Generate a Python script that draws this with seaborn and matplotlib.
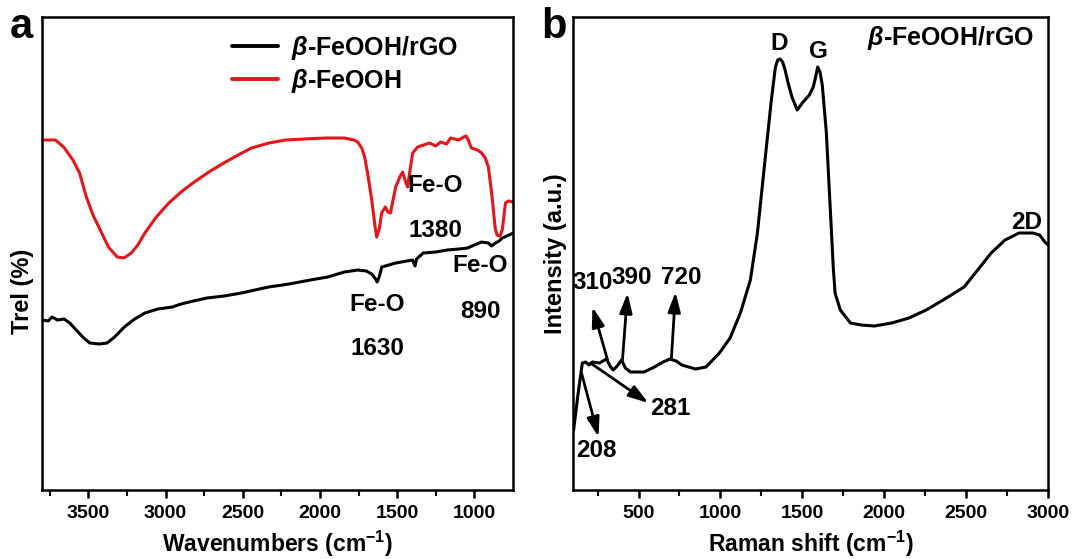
import numpy as np
import pandas as pd
import seaborn as sns
import matplotlib.pyplot as plt

# FTIR (panel a), arbitrary transmittance units
ftir_red_wn = [3800, 3713, 3660, 3600, 3557, 3513, 3470, 3423, 3370, 3313, 3270, 3222, 3180,
               3134, 3060, 2979, 2900, 2823, 2720, 2623, 2530, 2444, 2330, 2222, 2100, 1960,
               1843, 1780, 1756, 1730, 1711, 1690, 1665, 1645, 1633, 1615, 1601, 1577, 1560,
               1544, 1510, 1480, 1465, 1445, 1433, 1415, 1400, 1368, 1330, 1290, 1250, 1220,
               1180, 1155, 1100, 1070, 1054, 1040, 1020, 980, 954, 930, 910, 895, 884, 866,
               854, 835, 820, 799, 780, 748]
ftir_red_t = [350, 350, 343, 330, 317, 293, 275, 260, 243, 233, 232, 237, 245,
              257, 273, 287, 298, 307, 318, 327, 335, 342, 347, 350, 351, 352,
              352, 350, 348, 342, 333, 315, 290, 265, 253, 262, 277, 283, 278,
              277, 303, 314, 318, 308, 303, 322, 337, 343, 345, 347, 344, 348,
              346, 352, 350, 353, 354, 350, 342, 340, 337, 332, 323,
              305, 290, 262, 255, 254, 260, 287, 289, 288]

ftir_black_wn = [3800, 3760, 3735, 3700, 3657, 3620, 3579, 3530, 3490, 3430, 3379, 3330, 3267,
                 3200, 3134, 3050, 2956, 2900, 2820, 2732, 2620, 2510, 2333, 2200, 2063, 1950,
                 1843, 1756, 1700, 1665, 1640, 1630, 1615, 1600, 1510, 1400, 1385, 1375, 1332,
                 1250, 1176, 1100, 1045, 1000, 954, 910, 890, 864, 840, 820, 790, 748]
ftir_black_t = [170, 169, 173, 170, 171, 167, 160, 152, 147, 146, 147, 153, 163,
                171, 177, 181, 183, 186, 189, 192, 194, 197, 203, 206, 210, 213,
                218, 220, 219, 216, 211, 208, 214, 223, 227, 230, 224, 231, 237,
                238, 240, 241, 242, 245, 248, 247, 244, 247, 249, 252, 254, 257]

# Raman (panel b), arbitrary intensity
raman_shift = [104, 130, 157, 177, 198, 219, 262, 304, 330, 345, 370, 396, 420, 451, 534,
               597, 650, 692, 730, 765, 848, 912, 994, 1059, 1122, 1183, 1226, 1268, 1311,
               1336, 1350, 1364, 1380, 1395, 1415, 1437, 1469, 1500, 1543, 1567, 1580, 1594,
               1608, 1622, 1647, 1668, 1689, 1700, 1732, 1794, 1860, 1939, 2046, 2151, 2256,
               2360, 2488, 2571, 2653, 2738, 2823, 2908, 2949, 2981, 3000]
raman_int = [60, 95, 127, 128, 125, 128, 127, 131, 123, 120, 124, 130, 122, 118, 118,
             123, 128, 131, 129, 125, 121, 123, 137, 152, 177, 210, 257, 323, 390,
             423, 430, 431, 428, 420, 406, 393, 380, 387, 395, 403, 412, 423,
             418, 405, 357, 290, 223, 197, 180, 167, 165, 164, 167, 172, 180,
             190, 203, 220, 237, 250, 257, 257, 255, 248, 245]

red_label = "$\\beta$-FeOOH"
black_label = "$\\beta$-FeOOH/rGO"

sns.set_style("ticks")
plt.rcParams['font.family'] = ['Liberation Sans', 'DejaVu Sans']
plt.rcParams['font.weight'] = 'bold'
plt.rcParams['text.color'] = 'black'
plt.rcParams['axes.labelcolor'] = 'black'
plt.rcParams['xtick.color'] = 'black'
plt.rcParams['axes.edgecolor'] = 'black'
plt.rcParams['mathtext.fontset'] = 'custom'
plt.rcParams['mathtext.rm'] = 'Liberation Sans:bold'
plt.rcParams['mathtext.it'] = 'Liberation Sans:italic:bold'
plt.rcParams['mathtext.bf'] = 'Liberation Sans:bold'

fig = plt.figure(figsize=(10.72, 5.59), dpi=100)
ax1 = fig.add_axes([0.0392, 0.1234, 0.4394, 0.8462])
ax2 = fig.add_axes([0.5345, 0.1234, 0.4431, 0.8462])

df_black = pd.DataFrame({"wn": ftir_black_wn, "t": ftir_black_t})
df_red = pd.DataFrame({"wn": ftir_red_wn, "t": ftir_red_t})
sns.lineplot(data=df_black, x="wn", y="t", ax=ax1, color="black", lw=2.2,
             label=black_label, sort=False)
sns.lineplot(data=df_red, x="wn", y="t", ax=ax1, color="#e3171b", lw=2.2,
             label=red_label, sort=False)
ax1.set_xlim(3800, 750)
ax1.set_ylim(0, 473)
ax1.set_xticks([3500, 3000, 2500, 2000, 1500, 1000])
ax1.set_xticks(np.arange(3750, 750, -250), minor=True)
ax1.set_yticks([])
ax1.set_xlabel("Wavenumbers (cm$^{-1}$)", fontsize=16.5, fontweight='bold', labelpad=5)
ax1.set_ylabel("Trel (%)", fontsize=17, fontweight='bold')
ax1.yaxis.set_label_coords(-0.017, 0.419)
leg = ax1.legend(loc="upper left", bbox_to_anchor=(0.356, 1.012), frameon=False,
                 fontsize=18, handlelength=1.85, handletextpad=0.5, labelspacing=0.2)
for t in leg.get_texts():
    t.set_fontweight('bold')
for h in leg.get_lines():
    h.set_linewidth(2.8)

ann = dict(fontsize=17.5, fontweight='bold', ha='center', va='center')
ax1.text(1252, 305, "Fe-O", **ann)
ax1.text(1252, 260, "1380", **ann)
ax1.text(1627, 186, "Fe-O", **ann)
ax1.text(1627, 142, "1630", **ann)
ax1.text(961, 225, "Fe-O", **ann)
ax1.text(961, 179, "890", **ann)

df_raman = pd.DataFrame({"shift": raman_shift, "i": raman_int})
sns.lineplot(data=df_raman, x="shift", y="i", ax=ax2, color="black", lw=2.2)
ax2.set_xlim(100, 3000)
ax2.set_ylim(0, 473)
ax2.set_xticks([500, 1000, 1500, 2000, 2500, 3000])
ax2.set_xticks(np.arange(250, 3000, 250), minor=True)
ax2.set_yticks([])
ax2.set_xlabel("Raman shift (cm$^{-1}$)", fontsize=16.5, fontweight='bold', labelpad=5)
ax2.set_ylabel("Intensity (a.u.)", fontsize=17, fontweight='bold')
ax2.yaxis.set_label_coords(-0.013, 0.50)

ax2.text(1360, 446, "D", **ann)
ax2.text(1598, 438, "G", **ann)
ax2.text(2872, 268, "2D", **ann)
ax2.text(2915, 452, "$\\beta$-FeOOH/rGO", fontsize=18, fontweight='bold',
         ha='right', va='center')

arrow = dict(arrowstyle="-|>,head_length=0.85,head_width=0.27", color="black", lw=2.0,
             shrinkA=0, shrinkB=0, mutation_scale=14)
peaks = [(311, 130, 219, 183, 219, 208, "310"),
         (402, 130, 433, 197, 457, 213, "390"),
         (701, 132, 726, 198, 762, 213, "720"),
         (207, 127, 561, 87, 695, 82, "281"),
         (152, 117, 256, 53, 244, 40, "208")]
for x0, y0, x1, y1, tx, ty, lab in peaks:
    ax2.annotate("", xy=(x1, y1), xytext=(x0, y0), arrowprops=arrow)
    ax2.text(tx, ty, lab, **ann)

for ax in (ax1, ax2):
    for s in ax.spines.values():
        s.set_linewidth(1.8)
        s.set_visible(True)
    ax.tick_params(axis='x', which='major', direction='out', length=6, width=1.8,
                   labelsize=14, pad=5)
    ax.tick_params(axis='x', which='minor', direction='out', length=4, width=1.5)
    for lbl in ax.get_xticklabels():
        lbl.set_fontweight('bold')

fig.text(0.009, 0.952, "a", fontsize=30, fontweight='bold', va='center')
fig.text(0.505, 0.952, "b", fontsize=30, fontweight='bold', va='center')

fig.savefig("out.png", dpi=100)
